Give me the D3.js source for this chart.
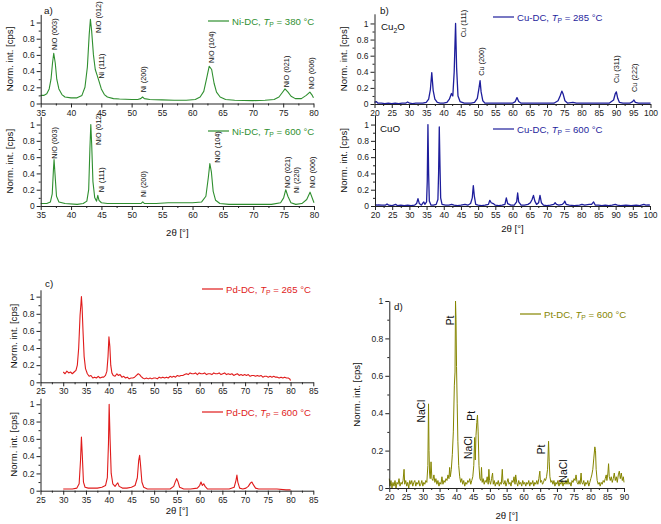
<!DOCTYPE html>
<html><head><meta charset="utf-8">
<script src="https://cdn.jsdelivr.net/npm/d3@7"></script>
<style>
body{margin:0;background:#fff}
svg text{font-family:"Liberation Sans",Arial,sans-serif}
</style>
</head><body>
<svg id="c" width="661" height="524"></svg>
<script>
// ---------------- DATA ----------------
const niLow = [[35,0.10],[35.5,0.10],[36,0.12],[36.4,0.18],[36.7,0.30],[36.95,0.50],[37.15,0.62],[37.4,0.50],[37.65,0.30],[38,0.18],[38.5,0.11],[39,0.08],[40,0.07],[41,0.07],[41.8,0.10],[42.3,0.20],[42.7,0.45],[43.0,0.85],[43.2,1.04],[43.4,0.90],[43.7,0.60],[44.0,0.42],[44.3,0.35],[44.6,0.28],[45,0.18],[45.5,0.11],[46,0.08],[47,0.06],[48,0.055],[50,0.05],[51,0.05],[51.5,0.06],[51.8,0.08],[52.1,0.06],[53,0.05],[55,0.045],[57,0.04],[59,0.04],[60.5,0.05],[61.3,0.08],[61.9,0.15],[62.4,0.32],[62.8,0.46],[63.2,0.42],[63.6,0.25],[64,0.14],[64.6,0.08],[65.5,0.05],[67,0.04],[70,0.035],[72,0.04],[73.5,0.05],[74.3,0.08],[74.8,0.13],[75.3,0.18],[75.8,0.14],[76.3,0.09],[77,0.06],[78,0.06],[78.8,0.10],[79.4,0.14],[79.8,0.10],[80,0.07]];
const niHigh = [[35,0.03],[36,0.03],[36.6,0.05],[36.9,0.15],[37.1,0.45],[37.2,0.57],[37.35,0.40],[37.6,0.12],[38,0.05],[39,0.03],[41,0.02],[42,0.03],[42.6,0.06],[42.9,0.20],[43.1,0.70],[43.25,1.0],[43.4,0.75],[43.6,0.30],[43.9,0.10],[44.2,0.06],[44.4,0.13],[44.6,0.07],[45,0.04],[46,0.03],[48,0.03],[50,0.03],[51.5,0.03],[51.8,0.05],[52.1,0.03],[54,0.03],[56,0.04],[58,0.04],[60,0.04],[61.5,0.05],[62.2,0.12],[62.6,0.35],[62.85,0.52],[63.1,0.42],[63.4,0.18],[63.8,0.07],[64.5,0.03],[66,0.02],[70,0.02],[73,0.02],[74.5,0.04],[75,0.10],[75.35,0.20],[75.7,0.12],[76.2,0.04],[77,0.02],[78,0.03],[78.8,0.08],[79.35,0.17],[79.8,0.08],[80,0.04]];
const cuLow = [[20,0.02],[20.5,0.03],[21,0.01],[22,0.012],[23,0.005],[24,0.01],[25,0.005],[26,0.01],[27,0.005],[28,0.01],[29,0.01],[29.6,0.025],[30.2,0.01],[31,0.005],[32,0.01],[33,0.01],[34,0.01],[35,0.02],[35.7,0.06],[36.2,0.18],[36.6,0.39],[37.0,0.17],[37.5,0.06],[38.2,0.02],[39,0.01],[40,0.01],[41,0.02],[41.7,0.06],[42.3,0.13],[42.7,0.10],[43.1,0.4],[43.5,1.0],[43.8,0.45],[44.2,0.1],[44.8,0.03],[46,0.01],[47,0.01],[48,0.01],[49,0.02],[49.8,0.07],[50.3,0.2],[50.6,0.29],[50.9,0.15],[51.4,0.04],[52,0.01],[54,0.01],[56,0.01],[58,0.01],[60,0.01],[60.8,0.03],[61.3,0.08],[61.8,0.03],[62.5,0.01],[65,0.01],[68,0.01],[70,0.01],[72,0.01],[73.2,0.04],[73.8,0.1],[74.3,0.16],[74.7,0.12],[75.2,0.04],[76,0.01],[77.5,0.02],[78.5,0.01],[80,0.01],[82,0.01],[84,0.01],[86,0.01],[88,0.01],[89.3,0.05],[89.8,0.13],[90.1,0.15],[90.5,0.07],[91,0.02],[92,0.01],[94,0.01],[94.8,0.03],[95.2,0.05],[95.6,0.02],[96.5,0.01],[98,0.01],[100,0.01]];
const cuHigh = [[20,0.02],[20.5,0.01],[21,0.015],[22,0.01],[23,0.01],[23.5,0.025],[24,0.01],[25,0.005],[26,0.02],[26.5,0.005],[27.5,0.01],[28.5,0.005],[29.5,0.01],[30.5,0.005],[31.5,0.01],[32.1,0.03],[32.5,0.09],[32.9,0.03],[33.5,0.01],[34.0,0.04],[34.2,0.05],[34.5,0.02],[35.0,0.05],[35.2,0.3],[35.4,1.0],[35.6,0.4],[35.8,0.06],[36.3,0.01],[37,0.01],[37.8,0.02],[38.3,0.08],[38.5,0.4],[38.7,0.97],[38.9,0.5],[39.1,0.1],[39.5,0.02],[40.5,0.01],[41.5,0.01],[42.3,0.02],[43,0.01],[44,0.005],[45,0.01],[46.2,0.02],[47,0.01],[47.8,0.03],[48.3,0.1],[48.6,0.25],[48.9,0.12],[49.3,0.02],[50,0.01],[51,0.005],[52,0.01],[53.0,0.02],[53.4,0.07],[53.8,0.04],[54.4,0.03],[55,0.01],[56,0.005],[57,0.01],[57.8,0.02],[58.2,0.1],[58.6,0.03],[59.5,0.01],[60.5,0.01],[61.2,0.05],[61.5,0.16],[61.8,0.05],[62.5,0.01],[63.5,0.01],[64.5,0.02],[65.2,0.04],[65.7,0.08],[66.1,0.13],[66.5,0.06],[67,0.02],[67.6,0.04],[68.0,0.13],[68.4,0.04],[69,0.01],[70,0.005],[71,0.01],[72.0,0.02],[72.4,0.04],[72.8,0.02],[73.5,0.01],[74.5,0.02],[75.0,0.04],[75.2,0.06],[75.6,0.02],[76.5,0.01],[78,0.005],[79.5,0.01],[80.2,0.02],[81,0.01],[82.3,0.02],[83,0.02],[83.6,0.05],[84.1,0.01],[85,0.01],[86,0.005],[87,0.01],[88,0.005],[89,0.01],[89.9,0.02],[90.5,0.01],[91.5,0.005],[93,0.01],[94.5,0.005],[96,0.01],[97,0.005],[98.2,0.02],[98.8,0.01],[99.5,0.015],[100,0.01]];
const pdLow = [[30,0.12],[30.4,0.10],[30.8,0.13],[31.2,0.11],[31.6,0.12],[32,0.10],[32.4,0.12],[32.8,0.14],[33.1,0.2],[33.4,0.4],[33.7,0.78],[33.9,0.92],[34.0,1.0],[34.15,0.88],[34.35,0.6],[34.6,0.3],[34.9,0.16],[35.3,0.1],[35.7,0.07],[36.1,0.08],[36.5,0.05],[36.9,0.06],[37.3,0.05],[37.7,0.07],[38.1,0.05],[38.5,0.06],[38.9,0.06],[39.3,0.08],[39.6,0.13],[39.85,0.3],[40.05,0.53],[40.25,0.42],[40.45,0.2],[40.7,0.11],[41.0,0.08],[41.4,0.07],[41.8,0.1],[42.1,0.08],[42.5,0.09],[42.9,0.06],[43.3,0.07],[43.7,0.05],[44.1,0.06],[44.5,0.04],[44.9,0.05],[45.3,0.05],[45.7,0.06],[46.1,0.08],[46.5,0.1],[46.8,0.09],[47.1,0.07],[47.5,0.05],[47.9,0.04],[48.3,0.05],[48.7,0.04],[49.1,0.05],[49.5,0.04],[49.9,0.05],[50.3,0.05],[50.7,0.04],[51.1,0.06],[51.5,0.05],[51.9,0.06],[52.3,0.05],[52.7,0.06],[53.1,0.05],[53.5,0.07],[53.9,0.06],[54.3,0.07],[54.7,0.06],[55.1,0.08],[55.5,0.07],[55.9,0.08],[56.3,0.08],[56.7,0.09],[57.1,0.1],[57.5,0.09],[57.9,0.11],[58.3,0.1],[58.7,0.1],[59.1,0.11],[59.5,0.09],[59.9,0.11],[60.3,0.1],[60.7,0.1],[61.1,0.11],[61.5,0.09],[61.9,0.1],[62.3,0.1],[62.7,0.09],[63.1,0.11],[63.5,0.1],[63.9,0.1],[64.3,0.11],[64.7,0.09],[65.1,0.1],[65.5,0.11],[65.9,0.09],[66.3,0.1],[66.7,0.09],[67.1,0.1],[67.5,0.08],[67.9,0.09],[68.3,0.1],[68.7,0.08],[69.1,0.09],[69.5,0.08],[69.9,0.09],[70.3,0.08],[70.7,0.09],[71.1,0.07],[71.5,0.08],[71.9,0.08],[72.3,0.07],[72.7,0.08],[73.1,0.07],[73.5,0.08],[73.9,0.06],[74.3,0.07],[74.7,0.07],[75.1,0.06],[75.5,0.07],[75.9,0.06],[76.3,0.07],[76.7,0.06],[77.1,0.06],[77.5,0.05],[77.9,0.06],[78.3,0.05],[78.7,0.06],[79.1,0.05],[79.5,0.05],[79.8,0.04],[80,0.02]];
const pdHigh = [[30,0.02],[31,0.02],[32,0.02],[33,0.03],[33.5,0.08],[33.8,0.35],[34.0,0.62],[34.2,0.4],[34.45,0.1],[34.8,0.04],[35.5,0.03],[36.5,0.03],[37.5,0.03],[38.5,0.04],[39.3,0.06],[39.7,0.15],[39.95,0.55],[40.1,1.0],[40.3,0.6],[40.55,0.2],[40.9,0.08],[41.4,0.05],[41.8,0.08],[42.0,0.09],[42.3,0.05],[43,0.03],[44,0.03],[45,0.04],[45.8,0.06],[46.3,0.15],[46.6,0.35],[46.8,0.41],[47.0,0.3],[47.3,0.1],[47.7,0.04],[48.5,0.02],[50,0.02],[52,0.02],[53.5,0.02],[54.3,0.05],[54.7,0.11],[54.95,0.14],[55.2,0.11],[55.6,0.04],[56.5,0.02],[58,0.02],[59.5,0.03],[60.0,0.06],[60.3,0.1],[60.6,0.06],[60.9,0.08],[61.2,0.05],[61.7,0.02],[63,0.02],[65,0.02],[66.5,0.02],[67.6,0.04],[68.0,0.12],[68.2,0.18],[68.4,0.1],[68.8,0.03],[69.5,0.02],[70.2,0.03],[70.7,0.05],[71.2,0.09],[71.5,0.1],[71.8,0.07],[72.3,0.03],[73,0.02],[75,0.02],[77,0.02],[79,0.01],[80,0.01]];
const ptHigh = [[20.0,0.05],[20.2,0.01],[20.5,0.04],[20.8,0.0],[21.1,0.03],[21.4,0.01],[21.7,0.04],[22.0,0.0],[22.3,0.03],[22.6,0.02],[22.9,0.05],[23.2,0.01],[23.5,0.03],[23.8,0.02],[24.1,0.04],[24.4,0.1],[24.6,0.02],[24.9,0.04],[25.2,0.01],[25.5,0.03],[25.8,0.0],[26.1,0.04],[26.4,0.02],[26.7,0.04],[27.0,0.01],[27.3,0.03],[27.6,0.04],[27.9,0.01],[28.2,0.03],[28.5,0.02],[28.8,0.04],[29.1,0.01],[29.4,0.02],[29.7,0.04],[30.0,0.01],[30.3,0.03],[30.6,0.02],[30.9,0.04],[31.2,0.03],[31.5,0.12],[31.7,0.45],[31.85,0.2],[32.0,0.08],[32.2,0.05],[32.45,0.14],[32.7,0.05],[33.0,0.04],[33.3,0.07],[33.6,0.03],[33.9,0.05],[34.2,0.02],[34.5,0.04],[34.8,0.01],[35.1,0.03],[35.4,0.02],[35.7,0.06],[36.0,0.02],[36.3,0.04],[36.6,0.03],[36.9,0.05],[37.2,0.04],[37.5,0.07],[37.8,0.05],[38.0,0.11],[38.2,0.06],[38.5,0.1],[38.8,0.18],[39.1,0.3],[39.4,0.55],[39.6,0.62],[39.75,1.0],[39.9,0.9],[40.05,0.65],[40.25,0.45],[40.45,0.25],[40.7,0.12],[41.0,0.06],[41.3,0.03],[41.6,0.05],[41.9,0.02],[42.2,0.04],[42.5,0.01],[42.8,0.03],[43.1,0.02],[43.4,0.04],[43.7,0.03],[44.0,0.05],[44.3,0.02],[44.6,0.04],[44.9,0.06],[45.2,0.12],[45.45,0.27],[45.65,0.15],[45.85,0.28],[46.1,0.35],[46.3,0.39],[46.5,0.3],[46.75,0.12],[47.0,0.05],[47.3,0.04],[47.5,0.11],[47.7,0.03],[48.0,0.05],[48.3,0.02],[48.6,0.04],[48.9,0.03],[49.2,0.06],[49.5,0.02],[49.7,0.1],[49.9,0.04],[50.2,0.02],[50.5,0.05],[50.8,0.08],[51.0,0.02],[51.3,0.04],[51.6,0.01],[51.9,0.03],[52.2,0.02],[52.5,0.04],[52.8,0.01],[53.1,0.03],[53.4,0.02],[53.7,0.1],[53.9,0.03],[54.2,0.02],[54.5,0.04],[54.8,0.01],[55.1,0.03],[55.4,0.05],[55.7,0.02],[56.0,0.03],[56.3,0.01],[56.6,0.04],[56.9,0.03],[57.2,0.06],[57.5,0.02],[57.7,0.07],[58.0,0.03],[58.3,0.01],[58.6,0.04],[58.9,0.02],[59.2,0.03],[59.5,0.01],[59.8,0.04],[60.1,0.02],[60.4,0.03],[60.7,0.01],[61.0,0.03],[61.3,0.02],[61.6,0.04],[61.9,0.01],[62.2,0.03],[62.5,0.02],[62.8,0.04],[63.1,0.01],[63.4,0.03],[63.7,0.02],[64.0,0.04],[64.3,0.02],[64.6,0.05],[64.9,0.09],[65.1,0.03],[65.4,0.04],[65.7,0.02],[66.0,0.03],[66.3,0.05],[66.6,0.04],[66.9,0.06],[67.2,0.1],[67.5,0.25],[67.7,0.14],[67.9,0.06],[68.2,0.03],[68.5,0.04],[68.8,0.02],[69.1,0.04],[69.4,0.01],[69.7,0.03],[70.0,0.02],[70.3,0.04],[70.6,0.01],[70.9,0.03],[71.2,0.02],[71.5,0.04],[71.8,0.01],[72.1,0.03],[72.4,0.02],[72.7,0.04],[73.0,0.02],[73.3,0.05],[73.6,0.02],[73.9,0.03],[74.2,0.01],[74.5,0.04],[74.8,0.03],[75.1,0.05],[75.4,0.04],[75.7,0.07],[76.0,0.03],[76.3,0.02],[76.6,0.04],[76.9,0.02],[77.2,0.08],[77.4,0.03],[77.7,0.02],[78.0,0.04],[78.3,0.01],[78.6,0.03],[78.9,0.02],[79.2,0.04],[79.5,0.01],[79.8,0.03],[80.1,0.05],[80.4,0.07],[80.7,0.1],[81.0,0.16],[81.3,0.22],[81.5,0.2],[81.7,0.1],[82.0,0.04],[82.3,0.02],[82.6,0.03],[82.9,0.01],[83.2,0.03],[83.5,0.02],[83.8,0.04],[84.1,0.03],[84.4,0.05],[84.7,0.07],[84.9,0.04],[85.2,0.08],[85.4,0.13],[85.6,0.06],[85.9,0.04],[86.2,0.06],[86.5,0.03],[86.8,0.05],[87.1,0.08],[87.4,0.04],[87.7,0.06],[88.0,0.03],[88.3,0.07],[88.6,0.09],[88.9,0.05],[89.2,0.08],[89.5,0.04],[89.8,0.06],[90.0,0.03]];

// peak annotations: [label, 2theta, intensity where the rotated text begins]
const niLowPeaks = [["NiO (003)",37.2,0.66],["NiO (012)",44.6,0.87],["Ni (111)",45.1,0.31],["Ni (200)",51.9,0.14],["NiO (104)",63.1,0.50],["NiO (021)",75.5,0.20],["NiO (006)",79.6,0.18]];
const niHighPeaks = [["NiO (003)",37.2,0.58],["NiO (012)",44.5,0.75],["Ni (111)",45.0,0.17],["Ni (200)",51.9,0.11],["NiO (104)",64.1,0.53],["NiO (021)",75.6,0.22],["Ni (220)",77.1,0.16],["NiO (006)",79.8,0.22]];
const cuLowPeaks = [["Cu (111)",45.9,0.83],["Cu (200)",50.9,0.35],["Cu (311)",90.0,0.26],["Cu (222)",95.2,0.15]];
const ptPeaks = [["Pt",38.1,0.87],["NaCl",29.7,0.35],["Pt",44.4,0.36],["NaCl",43.5,0.155],["Pt",65.5,0.18],["NaCl",71.8,0.03]];

// tick values
const yTicks = [0,0.2,0.4,0.6,0.8,1];
const niTicks = [35,40,45,50,55,60,65,70,75,80];
const cuTicks = [20,25,30,35,40,45,50,55,60,65,70,75,80,85,90,95,100];
const pdTicks = [25,30,35,40,45,50,55,60,65,70,75,80,85];
const ptTicks = [20,25,30,35,40,45,50,55,60,65,70,75,80,85,90];

// legend texts
const series = {
  niLow:["Ni-DC, ","380 °C"], niHigh:["Ni-DC, ","600 °C"],
  cuLow:["Cu-DC, ","285 °C"], cuHigh:["Cu-DC, ","600 °C"],
  pdLow:["Pd-DC, ","265 °C"], pdHigh:["Pd-DC, ","600 °C"],
  ptHigh:["Pt-DC, ","600 °C"]
};

// ---------------- DRAW ----------------
const svg = d3.select("#c");
const GREEN="#2f8f2f", BLUE="#1e1e9c", RED="#e01b1b", OLIVE="#858500";

function mids(arr){const m=[];for(let i=0;i<arr.length-1;i++)m.push((arr[i]+arr[i+1])/2);return m;}

function panel(o){
  const x=d3.scaleLinear().domain(o.xd).range(o.xr);
  const y=d3.scaleLinear().domain(o.yd).range(o.yr);
  const g=svg.append("g");
  g.append("path").datum(o.data)
    .attr("d",d3.line().x(d=>x(d[0])).y(d=>y(d[1])))
    .attr("fill","none").attr("stroke",o.color).attr("stroke-width",o.sw||1.1).attr("stroke-linejoin","round");
  const y0=y(0);
  // x axis
  const xa=g.append("g").attr("transform",`translate(0,${y0})`)
    .call(d3.axisBottom(x).tickValues(o.xt).tickSize(4).tickSizeOuter(0).tickPadding(2).tickFormat(d=>String(d)));
  g.append("g").attr("transform",`translate(0,${y0})`)
    .call(d3.axisBottom(x).tickValues(mids(o.xt)).tickSize(2).tickSizeOuter(0).tickFormat(""))
    .select(".domain").remove();
  // y axis
  const x0=o.xr[0];
  const ya=g.append("g").attr("transform",`translate(${x0},0)`)
    .call(d3.axisLeft(y).tickValues(yTicks).tickSize(4).tickSizeOuter(0).tickPadding(2).tickFormat(d=>String(d)));
  g.append("g").attr("transform",`translate(${x0},0)`)
    .call(d3.axisLeft(y).tickValues(mids(yTicks)).tickSize(2).tickSizeOuter(0).tickFormat(""))
    .select(".domain").remove();
  g.selectAll(".tick text").attr("font-size","8.5px").attr("fill","#222").attr("font-family","'Liberation Sans',Arial,sans-serif");
  g.selectAll(".domain,.tick line").attr("stroke","#222");
  // y title
  g.append("text").attr("transform",`translate(${o.ytx},${(o.yr[0]+o.yr[1])/2 + (o.yto||0)}) rotate(-90)`)
    .attr("text-anchor","middle").attr("font-size","9.6px").attr("fill","#111").text("Norm. int. [cps]");
  if(o.xtitle){
    g.append("text").attr("x",(o.xr[0]+o.xr[1])/2).attr("y",o.xtitle)
      .attr("text-anchor","middle").attr("font-size","9.6px").attr("fill","#111").text("2θ [°]");
  }
  // legend
  const lg=g.append("g");
  lg.append("line").attr("x1",o.leg[0]).attr("x2",o.leg[0]+21).attr("y1",o.leg[1]).attr("y2",o.leg[1])
    .attr("stroke",o.color).attr("stroke-width",1.2);
  const t=lg.append("text").attr("x",o.leg[0]+24).attr("y",o.leg[1]+3.5).attr("font-size","9.6px").attr("fill",o.color);
  t.append("tspan").text(o.lt[0]);
  t.append("tspan").attr("font-style","italic").text("T");
  t.append("tspan").attr("font-size","6.8px").attr("dy",2.5).text("P");
  t.append("tspan").attr("dy",-2.5).text(" = "+o.lt[1]);
  // peak labels
  (o.peaks||[]).forEach(p=>{
    g.append("text").attr("transform",`translate(${x(p[1])},${y(p[2])}) rotate(-90)`)
      .attr("dy","0.35em").attr("font-size",(o.pfs||7.3)+"px").attr("fill","#111").text(p[0]);
  });
  return {x,y,g};
}

// a) Ni
panel({data:niLow,color:GREEN,xd:[35,80],xr:[40.7,313.5],yd:[0,1.1],yr:[103.5,14.4],xt:niTicks,
  ytx:13,leg:[208,21],lt:series.niLow,peaks:niLowPeaks});
panel({data:niHigh,color:GREEN,xd:[35,80],xr:[40.7,314],yd:[0,1.1],yr:[206,116.4],xt:niTicks,
  ytx:13,leg:[208,131],lt:series.niHigh,peaks:niHighPeaks,xtitle:236});
// b) Cu
panel({data:cuLow,color:BLUE,xd:[20,100],xr:[374.5,650.5],yd:[0,1.12],yr:[104,13.8],xt:cuTicks,
  ytx:347,leg:[493,17],lt:series.cuLow,peaks:cuLowPeaks,sw:1.3});
panel({data:cuHigh,color:BLUE,xd:[20,100],xr:[375,650],yd:[0,1.12],yr:[206,114.8],xt:cuTicks,
  ytx:347,leg:[493,129],lt:series.cuHigh,xtitle:232,sw:1.3});
// c) Pd
panel({data:pdLow,color:RED,xd:[25,85],xr:[40.5,313.3],yd:[0,1.08],yr:[382.3,289.8],xt:pdTicks,
  ytx:17,leg:[202,289],lt:series.pdLow});
panel({data:pdHigh,color:RED,xd:[25,85],xr:[40.5,313.3],yd:[0,1.07],yr:[490.7,398.2],xt:pdTicks,
  ytx:17,leg:[202,412],lt:series.pdHigh,xtitle:514});
// d) Pt
panel({data:ptHigh,color:OLIVE,xd:[20,90],xr:[389.3,624],yd:[0,1],yr:[488,301],xt:ptTicks,
  ytx:360,leg:[520,314],lt:series.ptHigh,peaks:ptPeaks,pfs:10.3,xtitle:519,sw:1});

// panel letters and phase names
const letters=[["a)",44,14],["b)",380,14],["c)",45,287],["d)",394,310]];
letters.forEach(l=>svg.append("text").attr("x",l[1]).attr("y",l[2]).attr("font-size","9.8px").attr("fill","#111").text(l[0]));
const cu2o=svg.append("text").attr("x",381).attr("y",30).attr("font-size","9.8px").attr("fill","#111");
cu2o.append("tspan").text("Cu");cu2o.append("tspan").attr("font-size","6.8px").attr("dy",2.5).text("2");cu2o.append("tspan").attr("dy",-2.5).text("O");
svg.append("text").attr("x",380).attr("y",132).attr("font-size","9.8px").attr("fill","#111").text("CuO");
</script>
</body></html>
